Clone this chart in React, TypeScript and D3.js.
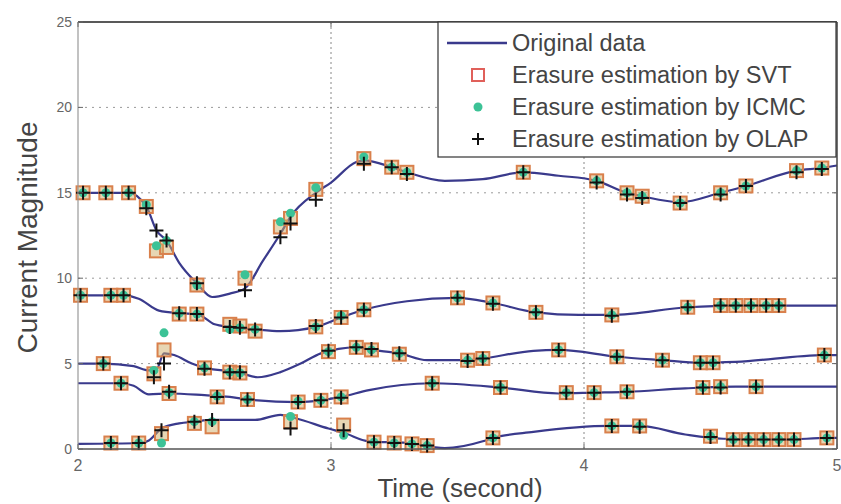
import React from "react";
import * as d3 from "d3";

const xTicks = [2, 3, 4, 5];
const yTicks = [0, 5, 10, 15, 20, 25];
const xGrid = [3, 4];
const yGrid = [5, 10, 15, 20];
const legendLabels = [
  "Original data",
  "Erasure estimation by SVT",
  "Erasure estimation by ICMC",
  "Erasure estimation by OLAP",
];

// original waveforms: [time, magnitude]
const phase1Line: [number, number][] = [
  [2.0, 15.0], [2.1, 15.0], [2.2, 15.0], [2.27, 14.2], [2.31, 12.8], [2.35, 12.2],
  [2.4, 10.9], [2.47, 9.7], [2.53, 8.9], [2.6, 9.1], [2.66, 9.4], [2.73, 11.0],
  [2.8, 12.6], [2.84, 13.6], [2.94, 15.0], [3.0, 15.6], [3.1, 16.8], [3.13, 16.9],
  [3.24, 16.5], [3.3, 16.2], [3.45, 15.7], [3.6, 15.8], [3.76, 16.2], [3.9, 16.0],
  [4.05, 15.7], [4.17, 15.0], [4.23, 14.8], [4.38, 14.45], [4.54, 15.0], [4.64, 15.4],
  [4.84, 16.3], [4.94, 16.45], [5.0, 16.6],
];
const phase2Line: [number, number][] = [
  [2.0, 9.0], [2.18, 9.0], [2.24, 8.8], [2.32, 8.1], [2.4, 7.95], [2.47, 7.9],
  [2.54, 7.3], [2.6, 7.15], [2.7, 7.0], [2.8, 6.9], [2.94, 7.15], [3.04, 7.7],
  [3.13, 8.15], [3.3, 8.65], [3.5, 8.85], [3.64, 8.55], [3.81, 8.0], [3.98, 7.85],
  [4.11, 7.85], [4.41, 8.3], [4.6, 8.4], [5.0, 8.4],
];
const phase3Line: [number, number][] = [
  [2.0, 5.0], [2.1, 5.0], [2.22, 4.85], [2.28, 4.6], [2.31, 4.65], [2.34, 5.6],
  [2.38, 5.5], [2.45, 5.0], [2.5, 4.75], [2.6, 4.55], [2.64, 4.45], [2.71, 4.2],
  [2.8, 4.5], [2.88, 5.0], [2.96, 5.6], [3.1, 5.95], [3.16, 5.8], [3.27, 5.6],
  [3.38, 5.2], [3.54, 5.2], [3.6, 5.3], [3.8, 5.75], [3.9, 5.8], [4.13, 5.4],
  [4.31, 5.2], [4.46, 5.05], [4.6, 5.1], [4.95, 5.5], [5.0, 5.5],
];
const phase4Line: [number, number][] = [
  [2.0, 3.85], [2.17, 3.85], [2.22, 3.7], [2.28, 3.2], [2.36, 3.25], [2.5, 3.15],
  [2.6, 3.05], [2.67, 2.9], [2.87, 2.75], [2.96, 2.85], [3.04, 3.05], [3.15, 3.45],
  [3.4, 3.85], [3.67, 3.6], [3.9, 3.25], [4.04, 3.3], [4.17, 3.35], [4.4, 3.55],
  [4.6, 3.65], [5.0, 3.65],
];
const phase5Line: [number, number][] = [
  [2.0, 0.3], [2.25, 0.35], [2.28, 0.5], [2.33, 1.2], [2.4, 1.5], [2.46, 1.6],
  [2.53, 1.7], [2.7, 1.7], [2.8, 2.0], [2.86, 1.8], [2.99, 1.2], [3.05, 0.95],
  [3.15, 0.45], [3.3, 0.35], [3.45, 0.05], [3.6, 0.45], [3.64, 0.65], [3.8, 1.0],
  [4.1, 1.35], [4.22, 1.35], [4.4, 0.85], [4.55, 0.6], [4.8, 0.55], [4.96, 0.65],
  [5.0, 0.65],
];

// estimates at the erased samples: [time, svt, icmc, olap]
const phase1Est: [number, number, number, number][] = [
  [2.02, 15.0, 15.0, 15.0], [2.11, 15.0, 15.0, 15.0], [2.2, 15.0, 15.0, 15.0],
  [2.27, 14.2, 14.3, 14.1], [2.31, 11.6, 11.9, 12.8], [2.35, 11.8, 12.2, 12.2],
  [2.47, 9.6, 9.6, 9.7], [2.66, 10.0, 10.2, 9.3], [2.8, 13.0, 13.3, 12.4],
  [2.84, 13.5, 13.8, 13.2], [2.94, 15.2, 15.3, 14.6], [3.13, 17.0, 17.1, 16.7],
  [3.24, 16.5, 16.5, 16.5], [3.3, 16.2, 16.2, 16.1], [3.76, 16.2, 16.2, 16.2],
  [4.05, 15.7, 15.7, 15.6], [4.17, 15.0, 15.0, 14.9], [4.23, 14.8, 14.8, 14.7],
  [4.38, 14.4, 14.4, 14.4], [4.54, 15.0, 15.0, 14.9], [4.64, 15.4, 15.4, 15.4],
  [4.84, 16.3, 16.3, 16.2], [4.94, 16.45, 16.45, 16.4],
];
const phase2Est: [number, number, number, number][] = [
  [2.01, 9.0, 9.0, 9.0], [2.13, 9.0, 9.0, 9.0], [2.18, 9.0, 9.0, 9.0],
  [2.4, 7.9, 7.95, 7.95], [2.47, 7.9, 7.9, 7.9], [2.6, 7.3, 7.0, 7.15],
  [2.64, 7.2, 7.1, 7.1], [2.7, 6.9, 7.0, 7.0], [2.94, 7.15, 7.15, 7.2],
  [3.04, 7.7, 7.8, 7.7], [3.13, 8.15, 8.15, 8.15], [3.5, 8.85, 8.85, 8.85],
  [3.64, 8.55, 8.55, 8.5], [3.81, 8.0, 8.0, 8.0], [4.11, 7.85, 7.85, 7.8],
  [4.41, 8.3, 8.3, 8.3], [4.54, 8.4, 8.4, 8.4], [4.6, 8.4, 8.4, 8.4],
  [4.66, 8.4, 8.4, 8.4], [4.72, 8.4, 8.4, 8.4], [4.77, 8.4, 8.4, 8.4],
];
const phase3Est: [number, number, number, number][] = [
  [2.1, 5.0, 5.0, 5.0], [2.3, 4.4, 4.6, 4.2], [2.34, 5.8, 6.8, 5.0],
  [2.5, 4.75, 4.75, 4.7], [2.6, 4.5, 4.5, 4.5], [2.64, 4.45, 4.45, 4.5],
  [2.99, 5.7, 5.7, 5.75], [3.1, 5.95, 5.95, 5.95], [3.16, 5.8, 5.8, 5.85],
  [3.27, 5.55, 5.6, 5.6], [3.54, 5.2, 5.2, 5.15], [3.6, 5.3, 5.3, 5.3],
  [3.9, 5.8, 5.8, 5.8], [4.13, 5.4, 5.4, 5.4], [4.31, 5.2, 5.2, 5.2],
  [4.46, 5.05, 5.05, 5.05], [4.51, 5.05, 5.05, 5.05], [4.95, 5.5, 5.5, 5.5],
];
const phase4Est: [number, number, number, number][] = [
  [2.17, 3.85, 3.85, 3.85], [2.36, 3.25, 3.3, 3.35], [2.55, 3.05, 3.1, 3.05],
  [2.67, 2.9, 2.9, 2.9], [2.87, 2.75, 2.8, 2.75], [2.96, 2.85, 2.85, 2.85],
  [3.04, 3.05, 3.05, 3.0], [3.4, 3.85, 3.85, 3.85], [3.67, 3.6, 3.6, 3.6],
  [3.93, 3.3, 3.3, 3.3], [4.04, 3.3, 3.3, 3.3], [4.17, 3.35, 3.35, 3.35],
  [4.47, 3.6, 3.6, 3.6], [4.54, 3.65, 3.65, 3.6], [4.68, 3.65, 3.65, 3.65],
];
const phase5Est: [number, number, number, number][] = [
  [2.13, 0.35, 0.35, 0.35], [2.24, 0.35, 0.35, 0.35], [2.33, 0.9, 0.35, 1.1],
  [2.46, 1.5, 1.6, 1.6], [2.53, 1.3, 1.6, 1.7], [2.84, 1.6, 1.9, 1.2],
  [3.05, 1.4, 0.8, 1.1], [3.17, 0.4, 0.4, 0.4], [3.25, 0.35, 0.35, 0.35],
  [3.32, 0.3, 0.3, 0.3], [3.38, 0.2, 0.2, 0.2], [3.64, 0.65, 0.65, 0.65],
  [4.11, 1.35, 1.35, 1.35], [4.22, 1.35, 1.35, 1.3], [4.5, 0.75, 0.75, 0.7],
  [4.59, 0.55, 0.55, 0.55], [4.65, 0.55, 0.55, 0.55], [4.71, 0.55, 0.55, 0.55],
  [4.77, 0.55, 0.55, 0.55], [4.83, 0.55, 0.55, 0.55], [4.96, 0.65, 0.65, 0.65],
];

const lines = [phase1Line, phase2Line, phase3Line, phase4Line, phase5Line];
const estimates = [phase1Est, phase2Est, phase3Est, phase4Est, phase5Est];

const W = 841;
const H = 504;
const margin = { left: 78, right: 4, top: 22, bottom: 55 };

const LINE_COLOR = "#3a3a8c";
const SVT_COLOR = "#d9804c";
const ICMC_COLOR = "#3cc296";
const FONT = "'Liberation Sans', Arial, sans-serif";

function Plus({ x, y, s = 6 }: { x: number; y: number; s?: number }) {
  return (
    <path
      d={`M${x - s},${y}H${x + s}M${x},${y - s}V${y + s}`}
      stroke="#111"
      strokeWidth={2}
    />
  );
}

export default function App() {
  const x = d3.scaleLinear().domain([2, 5]).range([margin.left, W - margin.right]);
  const y = d3.scaleLinear().domain([0, 25]).range([H - margin.bottom, margin.top]);
  const line = d3
    .line<[number, number]>()
    .x((d) => x(d[0]))
    .y((d) => y(d[1]))
    .curve(d3.curveMonotoneX);

  const x0 = x(2), x1 = x(5), y0 = y(0), y1 = y(25);
  const sq = 6.5;

  // legend box
  const lg = { x: 438, y: 22, w: 398, h: 135 };
  const rowY = [43, 75, 107, 139];

  return (
    <svg
      width={W}
      height={H}
      style={{ position: "absolute", left: 0, top: 0, background: "#fff" }}
      fontFamily={FONT}
    >
      <rect x={0} y={0} width={W} height={H} fill="#fff" />

      {/* grid */}
      {yGrid.map((v) => (
        <line key={"gy" + v} x1={x0} x2={x1} y1={y(v)} y2={y(v)}
          stroke="#9a9a9a" strokeWidth={1} strokeDasharray="2,5" />
      ))}
      {xGrid.map((v) => (
        <line key={"gx" + v} x1={x(v)} x2={x(v)} y1={y0} y2={y1}
          stroke="#888" strokeWidth={1} strokeDasharray="2,3" />
      ))}

      {/* waveforms */}
      {lines.map((d, i) => (
        <path key={"l" + i} d={line(d) || ""} fill="none" stroke={LINE_COLOR} strokeWidth={2.2} />
      ))}

      {/* SVT squares */}
      {estimates.map((est, i) =>
        est.map((e, j) => (
          <rect key={`s${i}-${j}`} x={x(e[0]) - sq} y={y(e[1]) - sq} width={sq * 2} height={sq * 2}
            fill="#cfae6a" fillOpacity={0.5} stroke={SVT_COLOR} strokeWidth={2} />
        ))
      )}
      {/* ICMC dots */}
      {estimates.map((est, i) =>
        est.map((e, j) => (
          <circle key={`c${i}-${j}`} cx={x(e[0])} cy={y(e[2])} r={4.5} fill={ICMC_COLOR} />
        ))
      )}
      {/* OLAP pluses */}
      {estimates.map((est, i) =>
        est.map((e, j) => <Plus key={`p${i}-${j}`} x={x(e[0])} y={y(e[3])} s={7} />)
      )}

      {/* axes frame */}
      <line x1={x0} x2={x1} y1={y1} y2={y1} stroke="#222" strokeWidth={1.5} />
      <line x1={x0} x2={x1} y1={y0} y2={y0} stroke="#555" strokeWidth={1.5} />
      <line x1={x0} x2={x0} y1={y0} y2={y1} stroke="#999" strokeWidth={1.2} />
      <line x1={x1} x2={x1} y1={y0} y2={y1} stroke="#444" strokeWidth={1.5} />

      {/* ticks */}
      {yTicks.map((v) => (
        <g key={"yt" + v}>
          <line x1={x0} x2={x0 + 5} y1={y(v)} y2={y(v)} stroke="#666" />
          <line x1={x1} x2={x1 - 5} y1={y(v)} y2={y(v)} stroke="#666" />
          <text x={x0 - 6} y={y(v)} dy="0.35em" textAnchor="end" fontSize={14} fill="#666">
            {v}
          </text>
        </g>
      ))}
      {xTicks.map((v) => (
        <g key={"xt" + v}>
          <line x1={x(v)} x2={x(v)} y1={y0} y2={y0 - 5} stroke="#666" />
          <line x1={x(v)} x2={x(v)} y1={y1} y2={y1 + 5} stroke="#666" />
          <text x={x(v)} y={y0 + 22} textAnchor="middle" fontSize={16} fill="#666">
            {v}
          </text>
        </g>
      ))}

      {/* axis labels */}
      <text x={460} y={497} textAnchor="middle" fontSize={26} fill="#444">
        Time (second)
      </text>
      <text
        transform={`translate(37,${(y0 + y1) / 2 + 2}) rotate(-90)`}
        textAnchor="middle"
        fontSize={28}
        fill="#444"
      >
        Current Magnitude
      </text>

      {/* legend */}
      <rect x={lg.x} y={lg.y} width={lg.w} height={lg.h} fill="#fff" stroke="#333" strokeWidth={1.2} />
      <line x1={447} x2={507} y1={rowY[0]} y2={rowY[0]} stroke={LINE_COLOR} strokeWidth={2.5} />
      <rect x={478 - 6} y={rowY[1] - 6} width={12} height={12} fill="none" stroke="#e0605a" strokeWidth={2} />
      <circle cx={478} cy={rowY[2]} r={4.5} fill={ICMC_COLOR} />
      <Plus x={478} y={rowY[3]} />
      {legendLabels.map((t, i) => (
        <text key={t} x={512} y={rowY[i]} dy="0.36em" fontSize={23.5} fill="#444">
          {t}
        </text>
      ))}
    </svg>
  );
}
